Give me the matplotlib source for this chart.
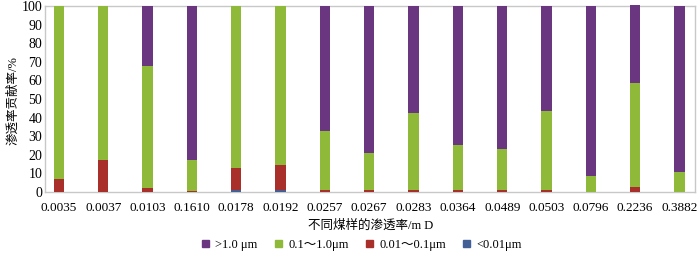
import matplotlib
matplotlib.use("Agg")
import matplotlib.pyplot as plt
from matplotlib.patches import Patch
import numpy as np

categories = ["0.0035", "0.0037", "0.0103", "0.1610", "0.0178", "0.0192", "0.0257",
              "0.0267", "0.0283", "0.0364", "0.0489", "0.0503", "0.0796", "0.2236", "0.3882"]
lt_001 = [0, 0, 0, 0, 1.0, 1.3, 0, 0, 0, 0, 0, 0, 0, 0, 0]
r001_01 = [6.8, 17.2, 2.0, 0.3, 11.7, 13.0, 1.0, 1.0, 1.0, 1.0, 1.0, 1.2, 0, 2.5, 0]
r01_10 = [93.2, 82.8, 65.6, 16.7, 87.3, 85.7, 32.0, 19.8, 41.3, 24.1, 22.3, 42.5, 8.8, 56.1, 10.6]
gt_10 = [0, 0, 32.4, 83.0, 0, 0, 67.0, 79.2, 57.7, 74.9, 76.7, 56.3, 91.2, 42.0, 89.4]
series_labels = [">1.0 μm", "0.1～1.0μm", "0.01～0.1μm", "<0.01μm"]

c_purple = "#6B3680"
c_green = "#8FB938"
c_red = "#A9302A"
c_blue = "#425F96"

fonts = ["Liberation Serif", "Noto Sans CJK SC", "DejaVu Sans"]
plt.rcParams["font.family"] = fonts

fig = plt.figure(figsize=(7.0, 2.59), dpi=100)
ax = fig.add_axes([45/700, 1-192/259, 650/700, 186/259])

x = np.arange(len(categories))
w = 0.233
b = np.zeros(len(categories))
for vals, col in [(lt_001, c_blue), (r001_01, c_red), (r01_10, c_green), (gt_10, c_purple)]:
    v = np.array(vals)
    ax.bar(x, v, w, bottom=b, color=col, linewidth=0, clip_on=False, zorder=3)
    b = b + v

ax.set_xlim(-0.316, 14.35)
ax.set_ylim(0, 100)
ax.set_yticks(np.arange(0, 101, 10))
ax.set_xticks(x)
ax.set_xticklabels(categories, fontsize=9.5)
ax.tick_params(axis="both", length=0)
ax.tick_params(axis="x", pad=7)
ax.tick_params(axis="y", pad=2, labelsize=10)
for s in ax.spines.values():
    s.set_color("#C8C8C8")
    s.set_linewidth(1.0)

fig.text(13/700, 1-101/259, "渗透率贡献率/%", rotation=90, ha="center", va="center", fontsize=9)
fig.text(371/700, 1-226/259, "不同煤样的渗透率/m D", ha="center", va="center", fontsize=9)

handles = [Patch(color=c) for c in [c_purple, c_green, c_red, c_blue]]
fig.legend(handles, series_labels, loc="center", bbox_to_anchor=(362/700, 1-245/259),
           ncol=4, frameon=False, fontsize=9, handlelength=0.55, handleheight=0.55,
           handletextpad=0.5, columnspacing=1.4)

fig.savefig("out.png", dpi=100)
